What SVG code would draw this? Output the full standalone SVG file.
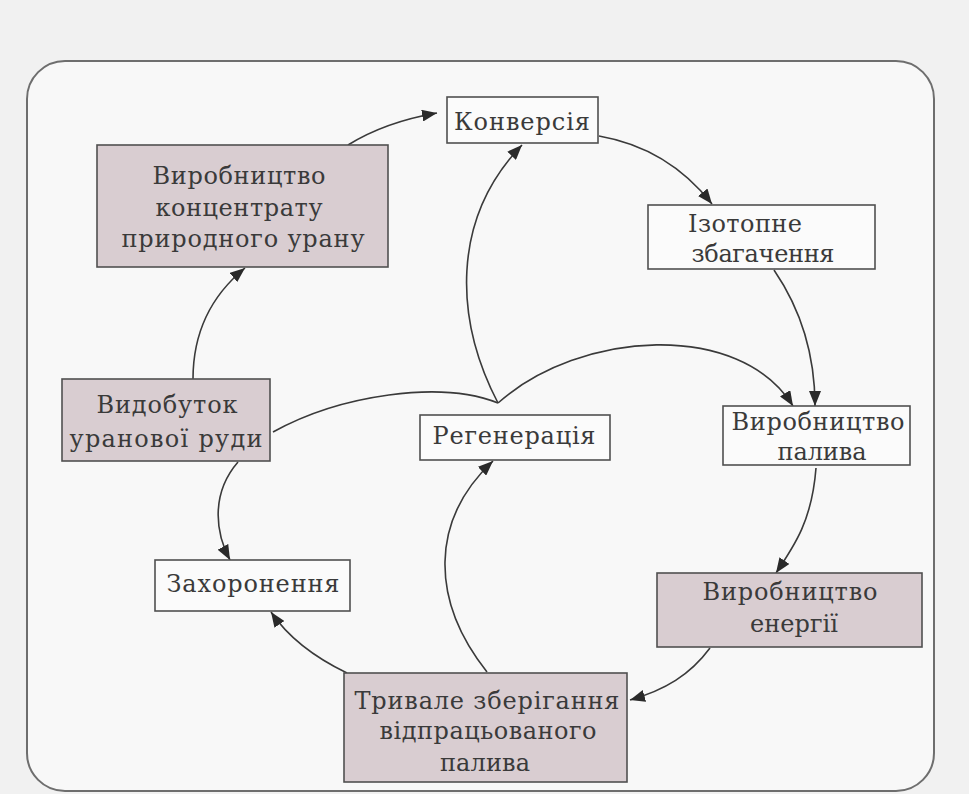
<svg xmlns="http://www.w3.org/2000/svg" width="969" height="794" viewBox="0 0 969 794">
<style>
.box{stroke:#505050;stroke-width:1.6}
.w{fill:#fbfbfb}
.p{fill:#d9cdd1}
.t{font-family:"DejaVu Serif","Liberation Serif",serif;font-size:24px;fill:#3a3a3a;text-anchor:middle}
.c{fill:none;stroke:#3a3a3a;stroke-width:1.6}
</style>
<defs>
<marker id="ah" markerUnits="userSpaceOnUse" markerWidth="16" markerHeight="12" refX="15" refY="6" orient="auto">
<path d="M0,0 L15,6 L0,12 z" fill="#2a2a2a"/>
</marker>
</defs>
<rect x="0" y="0" width="969" height="794" fill="#f1f1f1"/>
<rect id="frame" x="27" y="61" width="907" height="730" rx="38" fill="#f8f8f8" stroke="#6e6e6e" stroke-width="2"/>
<g id="connectors">
<path class="c" marker-end="url(#ah)" d="M348,145 Q385,122 437,113"/>
<path class="c" marker-end="url(#ah)" d="M193,379 C193,330 212,295 245,268"/>
<path class="c" marker-end="url(#ah)" d="M599,136 Q668,148 712,204"/>
<path class="c" marker-end="url(#ah)" d="M774,270 Q815,330 815,406"/>
<path class="c" d="M273,432 C340,395 440,380 498,403"/>
<path class="c" marker-end="url(#ah)" d="M498,403 C580,330 740,320 793,406"/>
<path class="c" marker-end="url(#ah)" d="M498,403 C455,320 450,220 522,145"/>
<path class="c" marker-end="url(#ah)" d="M816,468 C812,520 795,545 776,573"/>
<path class="c" marker-end="url(#ah)" d="M710,648 C690,675 665,690 630,700"/>
<path class="c" marker-end="url(#ah)" d="M487,672 C430,600 430,520 493,461"/>
<path class="c" marker-end="url(#ah)" d="M347,673 C320,660 290,640 271,612"/>
<path class="c" marker-end="url(#ah)" d="M238,462 C212,492 214,530 230,560"/>
</g>
<g id="n-konversiia">
<rect class="box w" x="447" y="97" width="151" height="46"/>
<text class="t" x="522" y="130" textLength="136" lengthAdjust="spacing">Конверсія</text>
</g>
<g id="n-kontsentrat">
<rect class="box p" x="97" y="145" width="291" height="122"/>
<text class="t" x="239" y="184" textLength="173" lengthAdjust="spacing">Виробництво</text>
<text class="t" x="239" y="216" textLength="167" lengthAdjust="spacing">концентрату</text>
<text class="t" x="243" y="247" textLength="243" lengthAdjust="spacing">природного урану</text>
</g>
<g id="n-izotopne">
<rect class="box w" x="648" y="205" width="227" height="64"/>
<text class="t" x="745" y="232" textLength="114" lengthAdjust="spacing">Ізотопне</text>
<text class="t" x="763" y="262" textLength="143" lengthAdjust="spacing">збагачення</text>
</g>
<g id="n-vydobutok">
<rect class="box p" x="62" y="379" width="208" height="82"/>
<text class="t" x="167" y="413" textLength="141" lengthAdjust="spacing">Видобуток</text>
<text class="t" x="166" y="447" textLength="193" lengthAdjust="spacing">уранової руди</text>
</g>
<g id="n-regeneratsiia">
<rect class="box w" x="420" y="415" width="190" height="45"/>
<text class="t" x="514" y="444" textLength="163" lengthAdjust="spacing">Регенерація</text>
</g>
<g id="n-palyvo">
<rect class="box w" x="723" y="406" width="187" height="59"/>
<text class="t" x="818" y="430" textLength="173" lengthAdjust="spacing">Виробництво</text>
<text class="t" x="822" y="460" textLength="89" lengthAdjust="spacing">палива</text>
</g>
<g id="n-zakhoronennia">
<rect class="box w" x="155" y="560" width="195" height="51"/>
<text class="t" x="253" y="592" textLength="173" lengthAdjust="spacing">Захоронення</text>
</g>
<g id="n-enerhiia">
<rect class="box p" x="657" y="573" width="265" height="74"/>
<text class="t" x="790" y="600" textLength="175" lengthAdjust="spacing">Виробництво</text>
<text class="t" x="794" y="632" textLength="88" lengthAdjust="spacing">енергії</text>
</g>
<g id="n-zberihannia">
<rect class="box p" x="344" y="673" width="283" height="109"/>
<text class="t" x="487" y="709" textLength="265" lengthAdjust="spacing">Тривале зберігання</text>
<text class="t" x="488" y="739" textLength="217" lengthAdjust="spacing">відпрацьованого</text>
<text class="t" x="485" y="771" font-size="22" textLength="90" lengthAdjust="spacing">палива</text>
</g>
</svg>
